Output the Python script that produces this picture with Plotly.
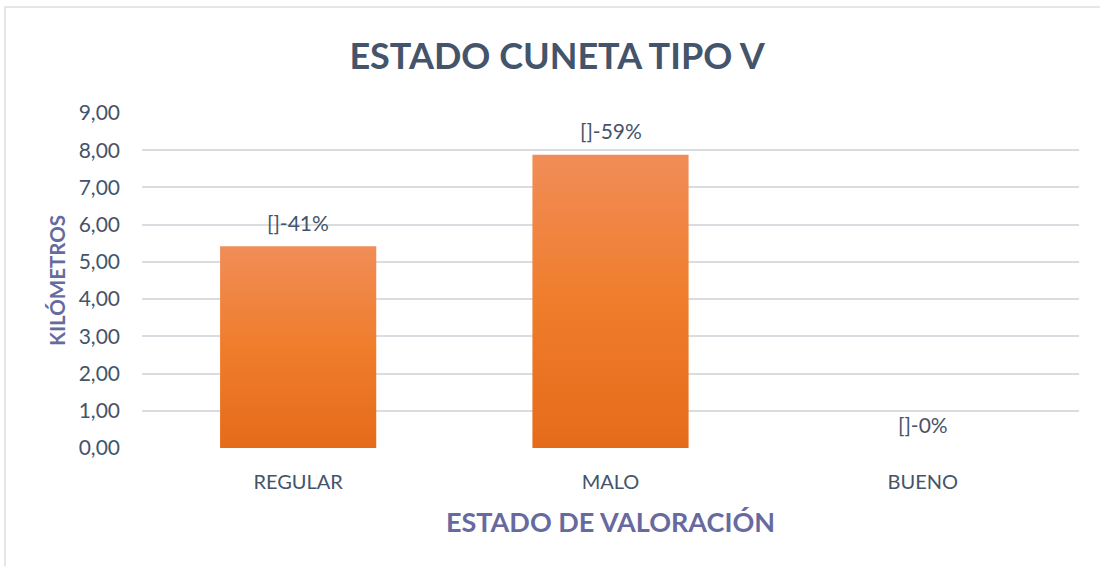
import plotly.graph_objects as go

# Kilometres of V-type ditch by condition rating
categorias = ["REGULAR", "MALO", "BUENO"]
kilometros = [5.42, 7.88, 0.0]
tick_vals = [0, 1, 2, 3, 4, 5, 6, 7, 8, 9]
tick_text = ["0,00", "1,00", "2,00", "3,00", "4,00", "5,00", "6,00", "7,00", "8,00", "9,00"]

TEXT = "#44546A"
AXIS_TITLE = "#676A9E"
FONT = "Lato, 'Open Sans', sans-serif"
BAR_TOP = "#F18D58"
BAR_BOTTOM = "#E56B1A"
HALF_W = 0.25

total = sum(kilometros)
porcentajes = [round(v / total * 100) for v in kilometros]

fig = go.Figure()

# each bar is a filled rectangle on the linear x scale so it can carry a vertical gradient
for i, v in enumerate(kilometros):
    if v <= 0:
        continue
    fig.add_trace(go.Scatter(
        x=[i - HALF_W, i + HALF_W, i + HALF_W, i - HALF_W, i - HALF_W],
        y=[0, 0, v, v, 0],
        mode="lines",
        line=dict(width=0),
        fill="toself",
        fillgradient=dict(type="vertical",
                          colorscale=[[0, BAR_BOTTOM], [0.5, "#EF7D2C"], [1, BAR_TOP]]),
        hoverinfo="skip",
        showlegend=False,
    ))

# data labels above each bar
for i, (v, p) in enumerate(zip(kilometros, porcentajes)):
    fig.add_annotation(
        x=i, y=v, xref="x", yref="y",
        text=f"[]-{p}%", showarrow=False,
        yanchor="middle", yshift=24,
        font=dict(family=FONT, size=21, color=TEXT),
    )

# chart frame
fig.add_shape(type="rect", xref="paper", yref="paper",
              x0=-0.1462, x1=1.05, y0=-0.40, y1=1.3165,
              line=dict(color="#DADFE4", width=1.5), fillcolor="rgba(0,0,0,0)",
              layer="below")

fig.update_layout(
    width=1100, height=566,
    margin=dict(l=142, r=21, t=113, b=118),
    paper_bgcolor="white", plot_bgcolor="white",
    title=dict(text="<b>ESTADO CUNETA TIPO V</b>", x=0.5064, xanchor="center",
               y=0.901, yanchor="middle",
               font=dict(family=FONT, size=36, color=TEXT)),
    xaxis=dict(
        range=[-0.5, 2.5], tickmode="array", tickvals=[0, 1, 2], ticktext=categorias,
        showgrid=False, zeroline=False, showline=False, ticks="",
        ticklabelstandoff=20,
        tickfont=dict(family=FONT, size=20, color=TEXT),
        title=dict(text="<b>ESTADO DE VALORACIÓN</b>", standoff=21,
                   font=dict(family=FONT, size=27, color=AXIS_TITLE)),
    ),
    yaxis=dict(
        range=[0, 9], tickmode="array", tickvals=tick_vals, ticktext=tick_text,
        showgrid=True, gridcolor="#D9DDE2", gridwidth=1.5,
        zeroline=False, showline=False, ticks="",
        ticklabelstandoff=21,
        tickfont=dict(family=FONT, size=21, color=TEXT),
        title=dict(text="<b>KILÓMETROS</b>", standoff=7,
                   font=dict(family=FONT, size=20.5, color=AXIS_TITLE)),
    ),
)

fig.write_html("out.html")
